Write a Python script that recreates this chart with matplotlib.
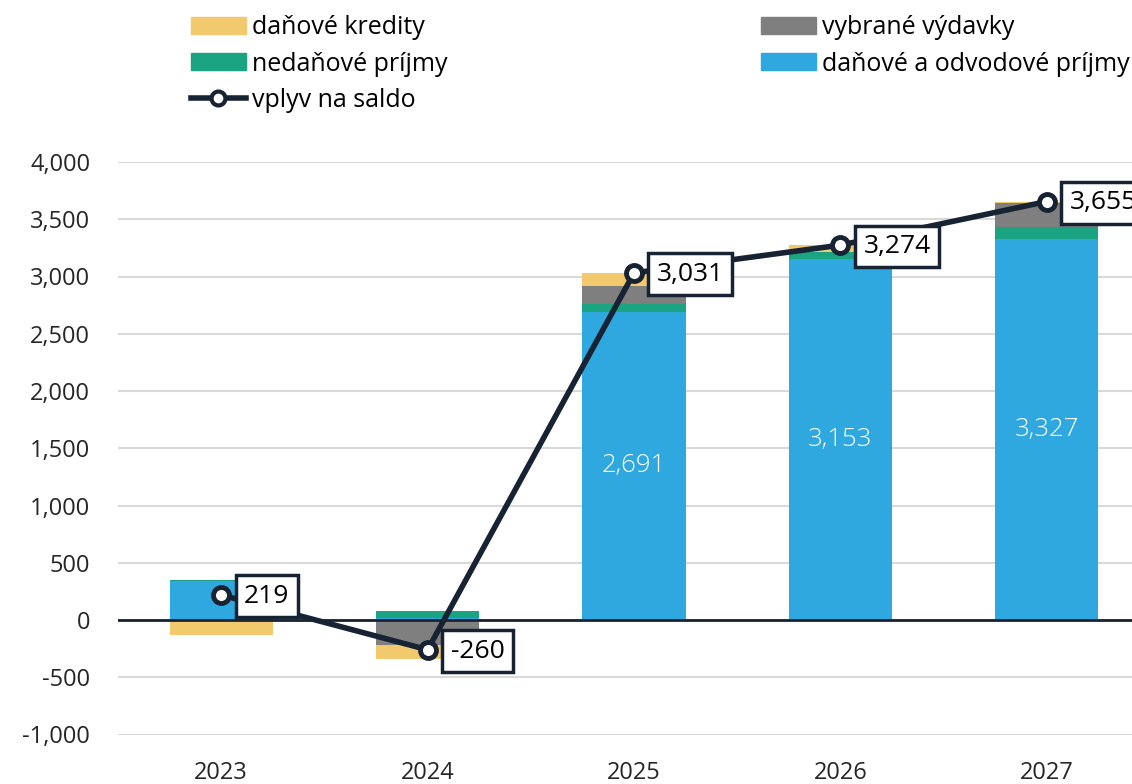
import numpy as np
import matplotlib
matplotlib.use('Agg')
from matplotlib import pyplot as plt
from matplotlib.patches import Patch
from matplotlib.lines import Line2D

plt.rcParams['font.family'] = ['Open Sans', 'DejaVu Sans']

##
years = ['2023', '2024', '2025', '2026', '2027']
dan_odv = [340, 20, 2691, 3153, 3327]      # daňové a odvodové príjmy
nedan = [10, 60, 70, 65, 105]              # nedaňové príjmy
vybrane = [0, -218, 157, 0, 210]           # vybrané výdavky
kredity = [-131, -122, 113, 56, 13]        # daňové kredity
saldo = [219, -260, 3031, 3274, 3655]      # vplyv na saldo
blue_labels = [None, None, 2691, 3153, 3327]

c_blue = '#2ea8df'
c_green = '#1aa482'
c_gray = '#7f7f7f'
c_yellow = '#f2c96d'
c_dark = '#172233'

##
fig = plt.figure(figsize=(11.32, 7.84), dpi=100)
ax = fig.add_axes([118 / 1132, 1 - 734.5 / 784, 1032 / 1132, 572.5 / 784])

x = np.arange(len(years))
pos_bottom = np.zeros(len(years))
neg_bottom = np.zeros(len(years))
for vals, col in [(dan_odv, c_blue), (nedan, c_green), (vybrane, c_gray), (kredity, c_yellow)]:
    vals = np.array(vals, dtype=float)
    bottom = np.where(vals >= 0, pos_bottom, neg_bottom)
    ax.bar(x, vals, width=0.5, bottom=bottom, color=col, zorder=2)
    pos_bottom += np.where(vals >= 0, vals, 0)
    neg_bottom += np.where(vals < 0, vals, 0)

for i, v in enumerate(blue_labels):
    if v is not None:
        ax.text(i, v / 2, f'{v:,}', ha='center', va='center', color='white',
                fontsize=18.5, fontweight='light', zorder=3)

ax.axhline(0, color=c_dark, lw=2, zorder=3)
ax.plot(x, saldo, color=c_dark, lw=4, marker='o', markersize=11.5,
        markerfacecolor='white', markeredgecolor=c_dark, markeredgewidth=3.5, zorder=4)

for i, v in enumerate(saldo):
    ax.annotate(f'{v:,}', (i, v), xytext=(16.5, -1), textcoords='offset points',
                ha='left', va='center', fontsize=19, color='black', zorder=5,
                bbox=dict(boxstyle='square,pad=0.32', fc='white', ec=c_dark, lw=2.5))

ax.set_xlim(-0.5, 4.5)
ax.set_ylim(-1000, 4000)
ax.set_yticks(np.arange(-1000, 4001, 500))
ax.set_yticklabels([f'{t:,}' for t in range(-1000, 4001, 500)])
ax.set_xticks(x)
ax.set_xticklabels(years)
ax.yaxis.grid(True, color='#d9d9d9', lw=1.5, zorder=0)
ax.set_axisbelow(True)
for s in ax.spines.values():
    s.set_visible(False)
ax.tick_params(axis='y', length=0, labelsize=17, colors='#262626', pad=20)
ax.tick_params(axis='x', length=0, labelsize=17, colors='#262626', pad=19)

##
handles = [Patch(color=c_yellow), Patch(color=c_green),
           Line2D([], [], color=c_dark, lw=4, marker='o', markersize=10,
                  markerfacecolor='white', markeredgecolor=c_dark, markeredgewidth=3),
           Patch(color=c_gray), Patch(color=c_blue)]
labels = ['daňové kredity', 'nedaňové príjmy', 'vplyv na saldo',
          'vybrané výdavky', 'daňové a odvodové príjmy']
fig.legend(handles, labels, ncol=2, loc='upper left', bbox_to_anchor=(178 / 1132, 1 - 3 / 784),
           frameon=False, fontsize=18, handlelength=2.2, handleheight=0.67,
           handletextpad=0.25, columnspacing=12.55, labelspacing=0.45, borderaxespad=0.1)

fig.savefig('out.png', dpi=100)
